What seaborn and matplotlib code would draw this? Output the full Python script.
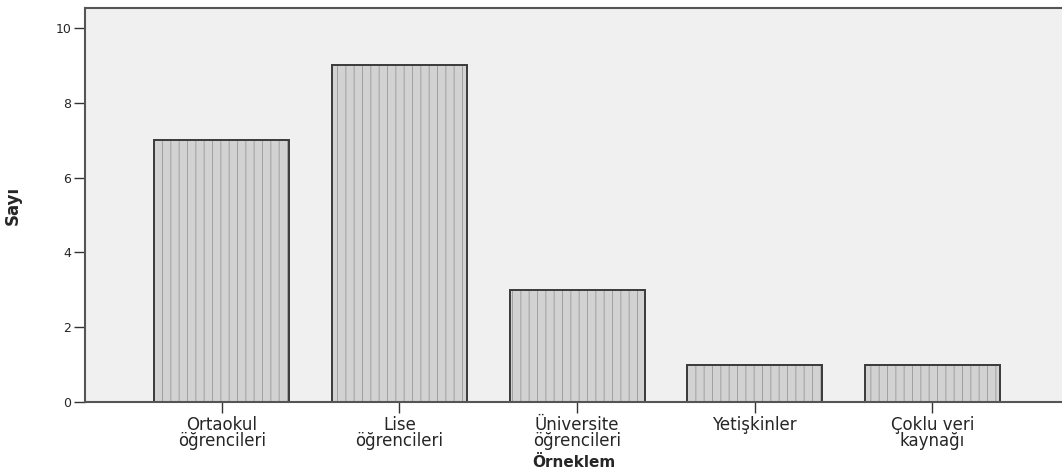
import numpy as np
import pandas as pd
import matplotlib
matplotlib.use('Agg')
import matplotlib.pyplot as plt
import seaborn as sns

# data
categories = ['Ortaokul\nöğrencileri', 'Lise\nöğrencileri', 'Üniversite\nöğrencileri',
              'Yetişkinler', 'Çoklu veri\nkaynağı']
counts = [7, 9, 3, 1, 1]
yticks = [0, 2, 4, 6, 8, 10]

df = pd.DataFrame({'Örneklem': categories, 'Sayı': counts})

sns.set_style('white')
plt.rcParams['font.family'] = ['DejaVu Sans']
plt.rcParams['hatch.linewidth'] = 0.7

fig = plt.figure(figsize=(10.62, 4.75), dpi=100)
ax = fig.add_axes([0.080, 0.1537, 0.92, 0.8294])
ax.set_facecolor('#f0f0f0')

# filled bars with the light vertical pattern (hatch takes the edge colour)
sns.barplot(data=df, x='Örneklem', y='Sayı', color='#d2d2d2', width=0.76,
            edgecolor='#a0a0a0', linewidth=0, hatch='||', saturation=1, ax=ax)
# dark outline on top
sns.barplot(data=df, x='Örneklem', y='Sayı', fill=False, width=0.76,
            edgecolor='#3a3a3a', linewidth=1.4, ax=ax)

ax.set_xlim(-0.77, 4.73)
ax.set_ylim(0, 10.53)
ax.set_yticks(yticks)
ax.tick_params(axis='y', direction='out', length=8, width=1, color='#333333',
               labelsize=9, pad=2, left=True)
ax.tick_params(axis='x', direction='out', length=8, width=1, color='#333333',
               labelsize=12, pad=2, bottom=True)
for lab in ax.get_xticklabels():
    lab.set_linespacing(0.85)

for side in ['left', 'bottom', 'top']:
    ax.spines[side].set_color('#555555')
    ax.spines[side].set_linewidth(1.5)
ax.spines['right'].set_visible(False)

ax.set_xlabel('Örneklem', fontsize=11, fontweight='bold', labelpad=4)
ax.set_ylabel('Sayı', fontsize=12, fontweight='bold', labelpad=24)

fig.savefig('out.png', dpi=100)
